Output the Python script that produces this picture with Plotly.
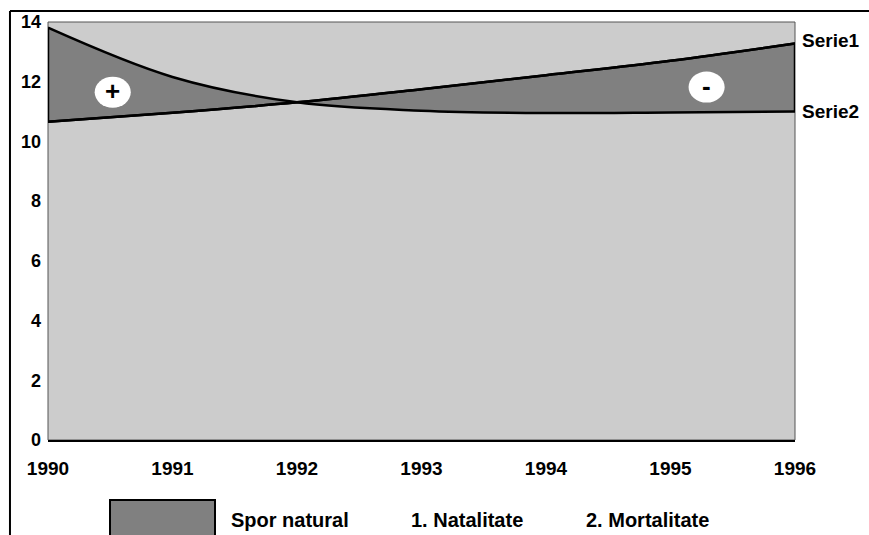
import plotly.graph_objects as go

# Years on the horizontal axis
years = [1990, 1991, 1992, 1993, 1994, 1995, 1996]
# Serie1 (rising line) and Serie2 (falling curve)
serie1 = [10.66, 10.96, 11.31, 11.75, 12.22, 12.70, 13.28]
serie2 = [13.81, 12.16, 11.31, 11.03, 10.95, 10.97, 11.00]
y_ticks = [0, 2, 4, 6, 8, 10, 12, 14]
legend_items = ["Spor natural", "1. Natalitate", "2. Mortalitate"]
series_names = ["Serie1", "Serie2"]

FONT = "Liberation Sans, Arial, sans-serif"
FILL = "#808080"

fig = go.Figure()

# Lower boundary, then the second curve filled to it
fig.add_trace(go.Scatter(
    x=years, y=serie1, mode="lines", line=dict(color="black", width=2.5, shape="spline"),
    hoverinfo="skip", showlegend=False))
fig.add_trace(go.Scatter(
    x=years, y=serie2, mode="lines", line=dict(color="black", width=2.5, shape="spline"),
    fill="tonexty", fillcolor=FILL, hoverinfo="skip", showlegend=False))
# Redraw the rising line on top of the fill
fig.add_trace(go.Scatter(
    x=years, y=serie1, mode="lines", line=dict(color="black", width=2.5, shape="spline"),
    hoverinfo="skip", showlegend=False))

# Closing edges at the first and last year
for i in (0, -1):
    fig.add_trace(go.Scatter(
        x=[years[i], years[i]], y=[serie1[i], serie2[i]], mode="lines",
        line=dict(color="black", width=2.5), hoverinfo="skip", showlegend=False))

# Series labels at the right end
fig.add_annotation(x=years[-1], y=serie1[-1], text="<b>%s</b>" % series_names[0],
                   showarrow=False, xanchor="left", yanchor="middle", xshift=5, yshift=3,
                   font=dict(family=FONT, size=19, color="black"))
fig.add_annotation(x=years[-1], y=serie2[-1], text="<b>%s</b>" % series_names[1],
                   showarrow=False, xanchor="left", yanchor="middle", xshift=5,
                   font=dict(family=FONT, size=19, color="black"))

# Sign markers: white ellipses with + and -
for cx, cy, sign in [(1990.52, 11.65, "+"), (1995.29, 11.82, "-")]:
    fig.add_shape(type="circle", xref="x", yref="y",
                  x0=cx - 0.145, x1=cx + 0.145, y0=cy - 0.52, y1=cy + 0.52,
                  fillcolor="white", line=dict(color="white", width=0), layer="above")
    fig.add_annotation(x=cx, y=cy, text="<b>%s</b>" % sign, showarrow=False,
                       font=dict(family=FONT, size=26, color="black"), yshift=1)

# Plot-area border
fig.add_shape(type="rect", xref="paper", yref="paper", x0=0, x1=1, y0=0, y1=1,
              line=dict(color="#555555", width=1), layer="below")

# Outer frame (top and left edges)
fig.add_shape(type="line", xref="paper", yref="paper", x0=-0.0509, x1=1.2,
              y0=1.0263, y1=1.0263, line=dict(color="black", width=2))
fig.add_shape(type="line", xref="paper", yref="paper", x0=-0.0509, x1=-0.0509,
              y0=-0.3, y1=1.0263, line=dict(color="black", width=2))

# Legend along the bottom
fig.add_shape(type="rect", xref="paper", yref="paper",
              x0=(110 - 48) / 747, x1=(215 - 48) / 747,
              y0=(440 - 545) / 418, y1=(440 - 500) / 418,
              fillcolor=FILL, line=dict(color="black", width=2))
for px, label in zip([229, 409, 584], legend_items):
    fig.add_annotation(xref="paper", yref="paper", x=(px - 48) / 747, y=(440 - 520) / 418,
                       text="<b>%s</b>" % label, showarrow=False, xanchor="left",
                       yanchor="middle", font=dict(family=FONT, size=20, color="black"))

fig.update_layout(
    width=869, height=535,
    margin=dict(l=48, r=74, t=22, b=95),
    paper_bgcolor="white", plot_bgcolor="#cccccc",
    xaxis=dict(range=[1990, 1996], tickvals=years, ticktext=[str(y) for y in years],
               showgrid=False, zeroline=False, showline=True, linecolor="black", linewidth=2,
               ticks="", ticklabelstandoff=10,
               tickfont=dict(family=FONT, size=19, color="black", weight="bold")),
    yaxis=dict(range=[0, 14], tickvals=y_ticks, showgrid=False, zeroline=False,
               showline=False, ticks="", ticklabelstandoff=6,
               tickfont=dict(family=FONT, size=18, color="black", weight="bold")),
    showlegend=False,
)

fig.write_html("out.html")
